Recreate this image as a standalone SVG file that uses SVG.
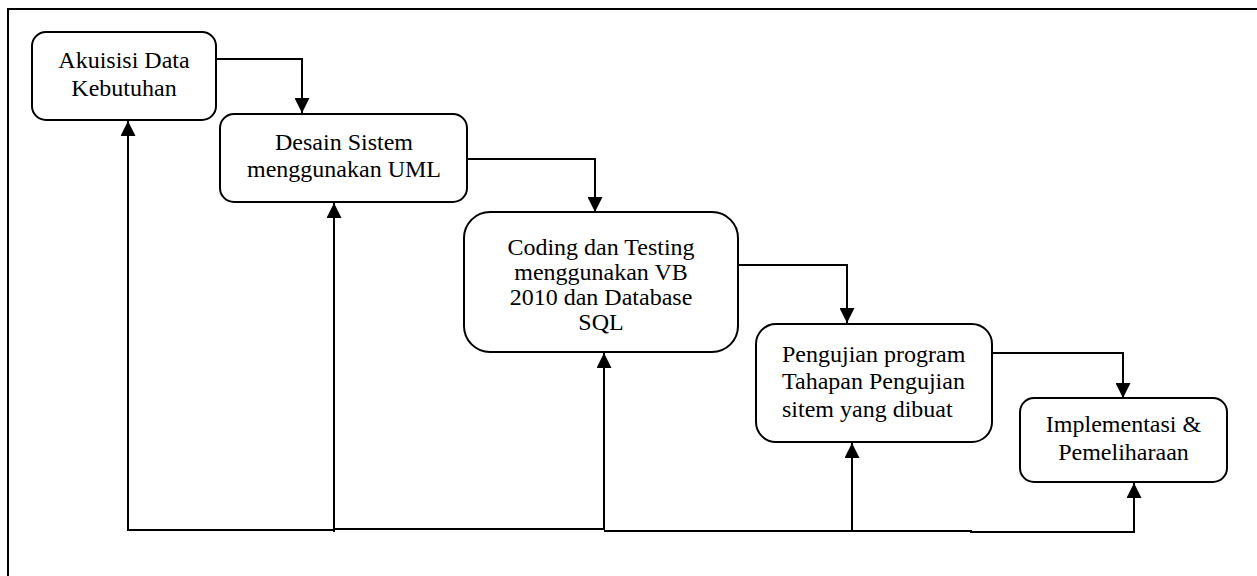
<svg xmlns="http://www.w3.org/2000/svg" width="1257" height="576" viewBox="0 0 1257 576">
  <defs>
    <marker id="arrow" viewBox="0 0 15 15" refX="15" refY="7.5" markerWidth="15" markerHeight="15" markerUnits="userSpaceOnUse" orient="auto">
      <path d="M0,0 L15,7.5 L0,15 z" fill="#000"/>
    </marker>
  </defs>
  <style>
    .box { fill: #fff; stroke: #000; stroke-width: 2; }
    .lbl { font-family: "Liberation Serif", "Times New Roman", serif; font-size: 24px; fill: #000; }
    .c { text-anchor: middle; }
    .con { fill: none; stroke: #000; stroke-width: 2; }
    .arr { marker-end: url(#arrow); }
  </style>
  <rect width="1257" height="576" fill="#fff"/>
  <path d="M8,580 V9 H1262" fill="none" stroke="#000" stroke-width="2"/>

  <g id="connectors">
    <path class="con arr" d="M216,59 H302 V113"/>
    <path class="con arr" d="M467,159 H595 V212"/>
    <path class="con arr" d="M738,265 H847 V323"/>
    <path class="con arr" d="M992,353 H1123 V398"/>
    <path class="con arr" d="M128,530 V121"/>
    <path class="con" d="M127,530 H334"/>
    <path class="con arr" d="M334,532 V203"/>
    <path class="con" d="M333,529 H605"/>
    <path class="con arr" d="M604,530 V353"/>
    <path class="con" d="M604,531 H971 V532 H1134"/>
    <path class="con arr" d="M852,531 V443"/>
    <path class="con arr" d="M1134,533 V483"/>
  </g>

  <g id="node-akuisisi">
    <rect class="box" x="32" y="32" width="184" height="88" rx="14"/>
    <text class="lbl c" x="124" y="68">Akuisisi Data</text>
    <text class="lbl c" x="124" y="96">Kebutuhan</text>
  </g>
  <g id="node-desain">
    <rect class="box" x="220" y="114" width="247" height="88" rx="14"/>
    <text class="lbl c" x="344" y="150">Desain Sistem</text>
    <text class="lbl c" x="344" y="177">menggunakan UML</text>
  </g>
  <g id="node-coding">
    <rect class="box" x="464" y="212" width="274" height="140" rx="26"/>
    <text class="lbl c" x="601" y="255">Coding dan Testing</text>
    <text class="lbl c" x="601" y="280">menggunakan VB</text>
    <text class="lbl c" x="601" y="305">2010 dan Database</text>
    <text class="lbl c" x="601" y="330">SQL</text>
  </g>
  <g id="node-pengujian">
    <rect class="box" x="756" y="324" width="236" height="118" rx="20"/>
    <text class="lbl" x="782" y="362">Pengujian program</text>
    <text class="lbl" x="782" y="389">Tahapan Pengujian</text>
    <text class="lbl" x="782" y="417">sitem yang dibuat</text>
  </g>
  <g id="node-implementasi">
    <rect class="box" x="1020" y="398" width="207" height="84" rx="14"/>
    <text class="lbl c" x="1123.5" y="432">Implementasi &amp;</text>
    <text class="lbl c" x="1123.5" y="460">Pemeliharaan</text>
  </g>
</svg>
